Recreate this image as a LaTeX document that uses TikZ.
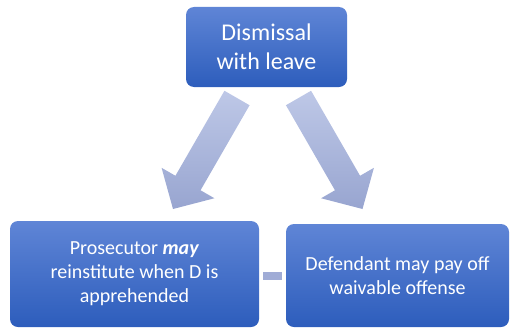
\documentclass[tikz,border=0pt]{standalone}
\usepackage{fontspec}
\setmainfont{Carlito}
\usetikzlibrary{calc}
\definecolor{boxtop}{RGB}{95,133,214}
\definecolor{boxbot}{RGB}{45,93,188}
\definecolor{arrtop}{RGB}{190,200,231}
\definecolor{arrbot}{RGB}{152,165,208}
\definecolor{barcol}{RGB}{160,172,214}
\tikzset{
  bluebox/.style={rounded corners=8pt, top color=boxtop, bottom color=boxbot,
    text=white, align=center, inner sep=0pt},
  bigtext/.style={font=\fontsize{24}{29}\selectfont},
  smalltext/.style={font=\fontsize{20}{24}\selectfont},
  blockarrow/.style={top color=arrtop, bottom color=arrbot, draw=none},
}
\newcommand{\blockarr}[2]{%
  \path[blockarrow]
    ($(#1)!14.5pt!90:(#2)$) --
    ($($(#2)!30pt!(#1)$)!14.5pt!-90:(#1)$) --
    ($($(#2)!30pt!(#1)$)!30.5pt!-90:(#1)$) --
    (#2) --
    ($($(#2)!30pt!(#1)$)!30.5pt!90:(#1)$) --
    ($($(#2)!30pt!(#1)$)!14.5pt!90:(#1)$) --
    ($(#1)!14.5pt!-90:(#2)$) -- cycle;}
\begin{document}
\begin{tikzpicture}[x=1pt,y=-1pt]
\useasboundingbox (0,0) rectangle (510,329);
\node[bluebox, bigtext, minimum width=161pt, minimum height=80pt] (top) at (266.5,47) {Dismissal\\with leave};
\node[bluebox, smalltext, minimum width=249pt, minimum height=106pt] (left) at (134.5,274) {Prosecutor \textbf{\textit{may}}\\reinstitute when D is\\apprehended};
\node[bluebox, smalltext, minimum width=223pt, minimum height=103pt] (right) at (397.5,275.5) {Defendant may pay off\\waivable offense};
\coordinate (lt) at (237,98);
\coordinate (lp) at (173,209);
\coordinate (rt) at (298.5,98);
\coordinate (rp) at (362.5,209);
\blockarr{lt}{lp}
\blockarr{rt}{rp}
\draw[barcol, line width=8pt, shorten <=4pt, shorten >=4pt] (left.east |- 0,276) -- (right.west |- 0,276);
\end{tikzpicture}
\end{document}
